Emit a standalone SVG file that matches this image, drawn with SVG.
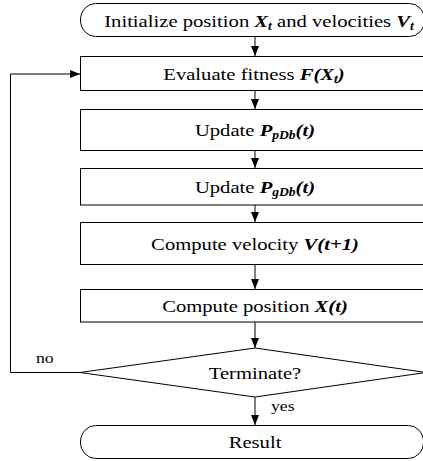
<svg xmlns="http://www.w3.org/2000/svg" width="423" height="461" viewBox="0 0 423 461">
  <style>
    .shape { fill: #fff; stroke: #000; stroke-width: 1; }
    .wire { fill: none; stroke: #000; stroke-width: 1; }
    .lbl { font-family: "Liberation Serif", "Times New Roman", serif; font-size: 17.5px; fill: #000; text-anchor: middle; }
    .small { font-family: "Liberation Serif", "Times New Roman", serif; font-size: 15px; fill: #000; }
    .m { font-weight: bold; font-style: italic; }
    .sub { font-size: 11.5px; }
  </style>
  <defs>
    <marker id="arrow" viewBox="0 0 10 10" refX="10" refY="5" markerWidth="10" markerHeight="10" markerUnits="userSpaceOnUse" orient="auto">
      <path d="M0,1 L10,5 L0,9 Z" fill="#000"/>
    </marker>
  </defs>

  <!-- connectors -->
  <g id="connectors">
    <line class="wire" x1="255" y1="36" x2="255" y2="56" marker-end="url(#arrow)"/>
    <line class="wire" x1="255" y1="91" x2="255" y2="109" marker-end="url(#arrow)"/>
    <line class="wire" x1="255" y1="150" x2="255" y2="168" marker-end="url(#arrow)"/>
    <line class="wire" x1="255" y1="205" x2="255" y2="222" marker-end="url(#arrow)"/>
    <line class="wire" x1="255" y1="265" x2="255" y2="289" marker-end="url(#arrow)"/>
    <line class="wire" x1="255" y1="322" x2="255" y2="348" marker-end="url(#arrow)"/>
    <line class="wire" x1="255" y1="397" x2="255" y2="425" marker-end="url(#arrow)"/>
    <polyline class="wire" points="80,372.5 10.5,372.5 10.5,74 80,74" marker-end="url(#arrow)"/>
    <text class="small" transform="matrix(1.18 0 0 1 36 363)">no</text>
    <text class="small" transform="matrix(1.18 0 0 1 271 411)">yes</text>
  </g>

  <g id="init">
    <rect class="shape" x="80.5" y="3.5" width="344" height="33" rx="15" ry="16.5"/>
    <text class="lbl" transform="matrix(1.18 0 0 1 259 26.5)">Initialize position <tspan class="m">X</tspan><tspan class="m sub" dy="3">t</tspan><tspan dy="-3"> and velocities </tspan><tspan class="m">V</tspan><tspan class="m sub" dy="3">t</tspan></text>
  </g>

  <g id="evaluate">
    <rect class="shape" x="80.5" y="56.5" width="350" height="34"/>
    <text class="lbl" transform="matrix(1.18 0 0 1 254 80)">Evaluate fitness <tspan class="m">F(X</tspan><tspan class="m sub" dy="3">t</tspan><tspan class="m" dy="-3">)</tspan></text>
  </g>

  <g id="update-p">
    <rect class="shape" x="80.5" y="109.5" width="350" height="41"/>
    <text class="lbl" transform="matrix(1.18 0 0 1 255 136)">Update <tspan class="m">P</tspan><tspan class="m sub" dy="3">pDb</tspan><tspan class="m" dy="-3">(t)</tspan></text>
  </g>

  <g id="update-g">
    <rect class="shape" x="80.5" y="168.5" width="350" height="36.5"/>
    <text class="lbl" transform="matrix(1.18 0 0 1 255 193)">Update <tspan class="m">P</tspan><tspan class="m sub" dy="3">gDb</tspan><tspan class="m" dy="-3">(t)</tspan></text>
  </g>

  <g id="velocity">
    <rect class="shape" x="80.5" y="222.5" width="350" height="42"/>
    <text class="lbl" transform="matrix(1.18 0 0 1 255 249.5)">Compute velocity <tspan class="m">V(t+1)</tspan></text>
  </g>

  <g id="position">
    <rect class="shape" x="80.5" y="289.5" width="350" height="32.5"/>
    <text class="lbl" transform="matrix(1.18 0 0 1 255 311.5)">Compute position <tspan class="m">X(t)</tspan></text>
  </g>

  <g id="terminate">
    <polygon class="shape" points="255,348 426,372.5 255,397 80,372.5"/>
    <text class="lbl" transform="matrix(1.18 0 0 1 255 379)">Terminate?</text>
  </g>

  <g id="result">
    <rect class="shape" x="80.5" y="425.5" width="343" height="33" rx="15" ry="16.5"/>
    <text class="lbl" transform="matrix(1.18 0 0 1 255 448)">Result</text>
  </g>
</svg>
